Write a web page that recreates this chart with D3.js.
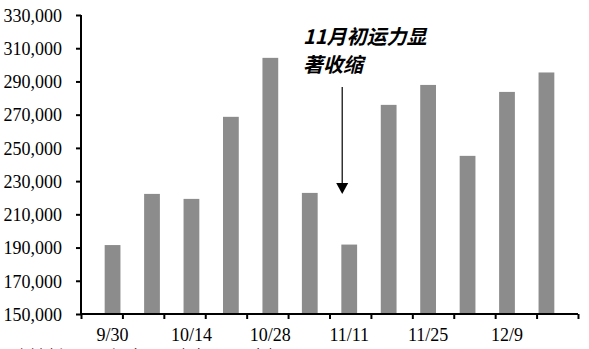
<!DOCTYPE html>
<html lang="zh">
<head>
  <meta charset="UTF-8">
  <title>运力</title>
  <style>
    body { margin: 0; background: #fff; }
    svg { display: block; }
    .ax text { font-family: "Liberation Serif", serif; font-size: 18px; fill: #000; }
  </style>
  <script src="https://d3js.org/d3.v7.min.js"></script>
</head>
<body>
  <svg width="589" height="349"></svg>
  <script>
    // 数据
    const weeks = ["9/30", "10/7", "10/14", "10/21", "10/28", "11/4", "11/11", "11/18", "11/25", "12/2", "12/9", "12/16"];
    const capacity = [191500, 222300, 219300, 268700, 304200, 222900, 191800, 275900, 287900, 245200, 283700, 295400];
    const yTicks = [150000, 170000, 190000, 210000, 230000, 250000, 270000, 290000, 310000, 330000];
    const shownLabels = ["9/30", "10/14", "10/28", "11/11", "11/25", "12/9"];

    const svg = d3.select("svg");
    const mLeft = 81, mRight = 578, mTop = 15, mBottom = 314;

    const x = d3.scaleBand().domain(weeks).range([mLeft, mRight]).padding(0.6);
    const xEdge = d3.scaleLinear().domain([0, weeks.length]).range([mLeft, mRight]);
    const y = d3.scaleLinear().domain([150000, 330000]).range([mBottom, mTop]);

    // 柱子
    svg.append("g").selectAll("rect")
      .data(capacity)
      .enter().append("rect")
      .attr("x", (d, i) => x(weeks[i]))
      .attr("y", d => y(d))
      .attr("width", x.bandwidth())
      .attr("height", d => mBottom - y(d))
      .attr("fill", "#8c8c8c");

    // y 轴
    const yAxis = svg.append("g").attr("class", "ax")
      .attr("transform", `translate(${mLeft},0)`)
      .call(d3.axisLeft(y).tickValues(yTicks).tickSize(5).tickPadding(14)
        .tickFormat(d3.format(",")));
    yAxis.select(".domain").attr("stroke", "#000").attr("stroke-width", 2).attr("d", `M0,${mTop}V${mBottom}`);
    yAxis.selectAll(".tick line").attr("stroke-width", 2);
    yAxis.selectAll("text").attr("dy", "0.35em");

    // x 轴刻度（分隔线）
    const xAxis = svg.append("g").attr("class", "ax")
      .attr("transform", `translate(0,${mBottom})`)
      .call(d3.axisBottom(xEdge).tickValues(d3.range(weeks.length + 1)).tickSize(5).tickFormat(""));
    xAxis.select(".domain").attr("stroke-width", 2).attr("d", `M${mLeft},0H${mRight}`);
    xAxis.selectAll(".tick line").attr("stroke-width", 2);

    // x 轴标签
    const xLab = svg.append("g").attr("class", "ax")
      .attr("transform", `translate(0,${mBottom})`)
      .call(d3.axisBottom(x).tickValues(shownLabels).tickSize(0).tickPadding(14));
    xLab.select(".domain").remove();

    // 注释
    const note = svg.append("text")
      .attr("x", 303).attr("y", 44)
      .attr("font-family", "Noto Sans CJK SC")
      .attr("font-size", 20).attr("font-weight", "bold").attr("font-style", "italic");
    note.append("tspan").attr("x", 303).text("11月初运力显");
    note.append("tspan").attr("x", 303).attr("dy", 28).text("著收缩");

    const ax = xEdge(6.5) - 8;
    svg.append("line")
      .attr("x1", ax).attr("x2", ax).attr("y1", 87).attr("y2", 184)
      .attr("stroke", "#000").attr("stroke-width", 1.2);
    svg.append("path")
      .attr("d", `M${ax - 6},183L${ax + 6},183L${ax},194Z`)
      .attr("fill", "#000");

    // 资料来源（底部被裁切）
    svg.append("text")
      .attr("x", 14).attr("y", 361)
      .attr("font-family", "Noto Sans CJK SC").attr("font-size", 15)
      .text("资料来源：Alphaliner，中金公司研究部");
  </script>
</body>
</html>
